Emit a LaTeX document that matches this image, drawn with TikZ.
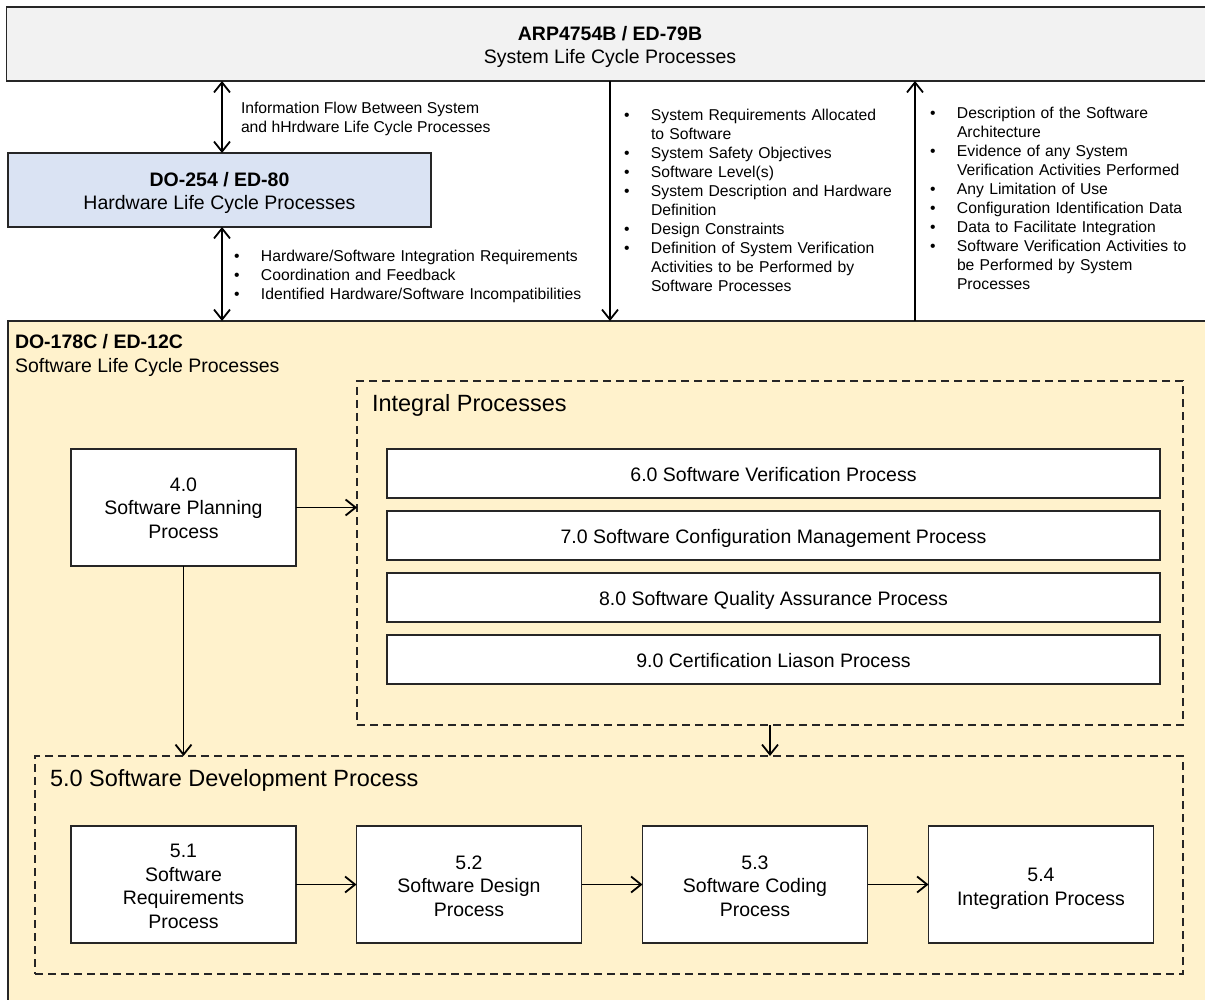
\documentclass[tikz,border=0pt]{standalone}
\usepackage{fontspec}
\setmainfont{Liberation Sans}
\usetikzlibrary{arrows.meta}

\definecolor{sysfill}{HTML}{F2F2F2}
\definecolor{hwfill}{HTML}{DAE3F3}
\definecolor{swfill}{HTML}{FFF2CC}
\definecolor{edge}{HTML}{262626}

\newcommand{\ftitle}{\fontsize{19.5}{23.5}\selectfont}
\newcommand{\flist}{\fontsize{15.7}{19}\selectfont}
\newcommand{\fgroup}{\fontsize{23.5}{28}\selectfont}
% one bullet entry with a hanging indent for its continuation lines
\newcommand{\bitem}[1]{\noindent\hangindent=27pt\hangafter=1\makebox[27pt][l]{\textbullet}#1\par}

\begin{document}
\begin{tikzpicture}[x=1pt,y=-1pt,
  panel/.style={draw=edge, line width=1.8pt, inner sep=0pt, outer sep=0pt,
                align=center, font=\ftitle},
  % text height = room above the last baseline, so every box sets its lines alike
  procbox/.style={panel, fill=white, text depth=0pt, text height=#1,
                  minimum width=225pt, minimum height=117pt},
  linebox/.style={panel, fill=white, text height=19pt, text depth=4pt,
                  minimum width=773pt, minimum height=49pt},
  groupbox/.style={draw=edge, line width=1.8pt, dash pattern=on 8pt off 5pt,
                   inner sep=0pt, outer sep=0pt},
  flow/.style={draw=black, line width=1.8pt, -{Straight Barb[length=10pt,width=16pt]}},
  flowboth/.style={draw=black, line width=1.8pt,
                   {Straight Barb[length=10pt,width=16pt]}-{Straight Barb[length=10pt,width=16pt]}},
  caption/.style={inner sep=0pt, outer sep=0pt, anchor=base west, align=left},
  bullets/.style={inner sep=0pt, outer sep=0pt, anchor=base west, align=left,
                  text width=#1, font=\flist},
]
\useasboundingbox (0,0) rectangle (1205,1000);

% ---- life cycle panels ----
\node[panel, fill=swfill, minimum width=1207pt, minimum height=689pt] (sw) at (611.5,665.5) {};
\node[panel, fill=sysfill, text height=40pt, text depth=0pt, minimum width=1207pt, minimum height=74pt] (sys) at (610,44)
  {{\bfseries ARP4754B / ED-79B}\\System Life Cycle Processes};
\node[panel, fill=hwfill, text height=40pt, text depth=0pt, minimum width=423pt, minimum height=74pt] (hw) at (219.5,190)
  {{\bfseries DO-254 / ED-80}\\Hardware Life Cycle Processes};
\node[caption, font=\ftitle] (swlabel) at (15,372)
  {{\bfseries DO-178C / ED-12C}\\Software Life Cycle Processes};

% ---- data exchanged between the life cycles ----
\coordinate (xhw) at (222,0);
\coordinate (xdown) at (610,0);
\coordinate (xup) at (915,0);

\draw[flowboth] (sys.south -| xhw) -- (hw.north -| xhw);
\draw[flowboth] (hw.south -| xhw) -- (sw.north -| xhw);
\draw[flow] (sys.south -| xdown) -- (sw.north -| xdown);
\draw[flow] (sw.north -| xup) -- (sys.south -| xup);

\node[caption, font=\flist] (infoflow) at (241,132.6)
  {Information Flow Between System\\and hHrdware Life Cycle Processes};

\node[bullets=360pt] (hwlist) at (234,261.6) {%
  \bitem{Hardware/Software Integration Requirements}%
  \bitem{Coordination and Feedback}%
  \bitem{Identified Hardware/Software Incompatibilities}};

\node[bullets=285pt] (downlist) at (624,120.6) {%
  \bitem{System Requirements Allocated\newline to Software}%
  \bitem{System Safety Objectives}%
  \bitem{Software Level(s)}%
  \bitem{System Description and Hardware\newline Definition}%
  \bitem{Design Constraints}%
  \bitem{Definition of System Verification\newline Activities to be Performed by\newline Software Processes}};

\node[bullets=275pt] (uplist) at (930,118.6) {%
  \bitem{Description of the Software\newline Architecture}%
  \bitem{Evidence of any System\newline Verification Activities Performed}%
  \bitem{Any Limitation of Use}%
  \bitem{Configuration Identification Data}%
  \bitem{Data to Facilitate Integration}%
  \bitem{Software Verification Activities to\newline be Performed by System\newline Processes}};

% ---- integral processes ----
\node[groupbox, minimum width=826pt, minimum height=344pt] (integ) at (770,553) {};
\node[caption, font=\fgroup] (integlabel) at (372,411.4) {Integral Processes};
\node[linebox] (p60) at (773.5,473.5) {6.0 Software Verification Process};
\node[linebox] (p70) at (773.5,535.5) {7.0 Software Configuration Management Process};
\node[linebox] (p80) at (773.5,597.5) {8.0 Software Quality Assurance Process};
\node[linebox] (p90) at (773.5,659.5) {9.0 Certification Liason Process};

% ---- planning ----
\node[procbox=61pt] (p40) at (183.5,507.5) {4.0\\Software Planning\\Process};

% ---- development ----
\node[groupbox, minimum width=1148pt, minimum height=218pt] (dev) at (609,865) {};
\node[caption, font=\fgroup] (devlabel) at (50,786.4) {5.0 Software Development Process};
\node[procbox=87pt] (p51) at (183.5,884.5) {5.1\\Software\\Requirements\\Process};
\node[procbox=63pt] (p52) at (469,884.5) {5.2\\Software Design\\Process};
\node[procbox=63pt] (p53) at (755,884.5) {5.3\\Software Coding\\Process};
\node[procbox=41pt] (p54) at (1041,884.5) {5.4\\Integration Process};

% ---- process flow ----
\draw[flow] (p40.east) -- (integ.west |- p40.east);
\draw[flow] (p40.south) -- (dev.north -| p40.south);
\draw[flow] (integ.south) -- (dev.north -| integ.south);
\draw[flow] (p51.east) -- (p52.west);
\draw[flow] (p52.east) -- (p53.west);
\draw[flow] (p53.east) -- (p54.west);

\end{tikzpicture}
\end{document}
